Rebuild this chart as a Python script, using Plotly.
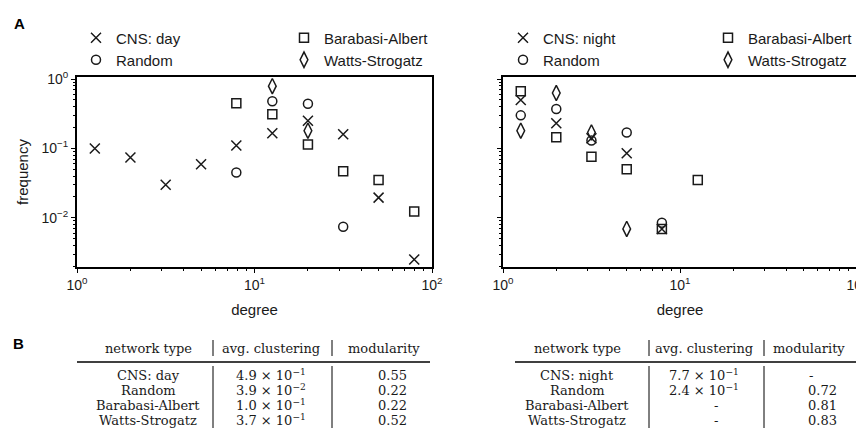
import math
import plotly.graph_objects as go

# The page body has an 8px margin, so the figure is drawn 8px in from the top-left corner.
OFF = 8
W, H = 864 - OFF, 439 - OFF

# ---------------- data ----------------
day_cns_x = [1.26, 2.0, 3.16, 5.0, 7.9, 12.6, 20.0, 31.6, 50.0, 79.4]
day_cns_y = [0.10, 0.074, 0.030, 0.059, 0.11, 0.165, 0.25, 0.16, 0.0195, 0.0025]
day_random_x = [7.9, 12.6, 20.0, 31.6]
day_random_y = [0.045, 0.48, 0.44, 0.0074]
day_ba_x = [7.9, 12.6, 20.0, 31.6, 50.0, 79.4]
day_ba_y = [0.45, 0.31, 0.114, 0.047, 0.035, 0.0123]
day_ws_x = [12.6, 20.0]
day_ws_y = [0.79, 0.18]

night_cns_x = [1.26, 2.0, 3.16, 5.0, 7.9]
night_cns_y = [0.50, 0.23, 0.14, 0.085, 0.0069]
night_random_x = [1.26, 2.0, 3.16, 5.0, 7.9]
night_random_y = [0.30, 0.37, 0.13, 0.17, 0.0085]
night_ba_x = [1.26, 2.0, 3.16, 5.0, 7.9, 12.6]
night_ba_y = [0.67, 0.145, 0.076, 0.05, 0.0069, 0.035]
night_ws_x = [1.26, 2.0, 3.16, 5.0]
night_ws_y = [0.18, 0.63, 0.17, 0.0069]

x_tickvals = [1, 10, 100]
x_ticktext = ["10<sup>0</sup>", "10<sup>1</sup>", "10<sup>2</sup>"]
y_tickvals = [1, 0.1, 0.01]
y_ticktext = ["10<sup>0</sup>", "10<sup>−1</sup>", "10<sup>−2</sup>"]

table_header = ["network type", "avg. clustering", "modularity"]
table_day_names = ["CNS: day", "Random", "Barabasi-Albert", "Watts-Strogatz"]
table_day_clustering = [4.9e-1, 3.9e-2, 1.0e-1, 3.7e-1]
table_day_modularity = [0.55, 0.22, 0.22, 0.52]
table_night_names = ["CNS: night", "Random", "Barabasi-Albert", "Watts-Strogatz"]
table_night_clustering = [7.7e-1, 2.4e-1, None, None]
table_night_modularity = [None, 0.72, 0.81, 0.83]

# ---------------- helpers ----------------
def px(x):
    return (x - OFF) / W

def py(y):
    return 1 - (y - OFF) / H

def sci(v):
    e = int(math.floor(math.log10(v)))
    m = v / 10 ** e
    return f"{m:.1f} × 10<sup>−{abs(e)}</sup>" if e < 0 else f"{m:.1f} × 10<sup>{e}</sup>"

def num(v):
    return f"{v:.2f}"

INK = "#1a1a1a"
SANS = "Liberation Sans, Arial, sans-serif"
SERIF = "DejaVu Serif, serif"

fig = go.Figure()

series = [
    (day_cns_x, day_cns_y, "CNS: day", "x-thin-open", 10, "x", "legend", (76, 38)),
    (day_random_x, day_random_y, "Random", "circle-open", 9, "x", "legend2", (76, 60)),
    (day_ba_x, day_ba_y, "Barabasi-Albert", "square-open", 9, "x", "legend3", (284, 38)),
    (day_ws_x, day_ws_y, "Watts-Strogatz", "diamond-tall-open", 11, "x", "legend4", (284, 60)),
    (night_cns_x, night_cns_y, "CNS: night", "x-thin-open", 10, "x2", "legend5", (503, 38)),
    (night_random_x, night_random_y, "Random", "circle-open", 9, "x2", "legend6", (503, 60)),
    (night_ba_x, night_ba_y, "Barabasi-Albert", "square-open", 9, "x2", "legend7", (708, 38)),
    (night_ws_x, night_ws_y, "Watts-Strogatz", "diamond-tall-open", 11, "x2", "legend8", (708, 60)),
]

legend_layout = {}
for xs, ys, name, sym, size, xa, lg, (lx, ly) in series:
    fig.add_trace(go.Scatter(
        x=xs, y=ys, mode="markers", name=name, xaxis=xa, yaxis="y" if xa == "x" else "y2",
        legend=lg,
        marker=dict(symbol=sym, size=size, color=INK, line=dict(color=INK, width=1.5)),
    ))
    legend_layout[lg] = dict(
        x=px(lx), y=py(ly), xanchor="left", yanchor="middle", xref="paper", yref="paper",
        bgcolor="rgba(0,0,0,0)", borderwidth=0, font=dict(family=SANS, size=15, color=INK),
    )

axis_common = dict(
    type="log", showgrid=False, zeroline=False, showline=True, linecolor="black", linewidth=2,
    mirror=True, ticks="outside", ticklen=4, tickwidth=1.2, tickcolor="black", automargin=False,
    tickfont=dict(family=SANS, size=14, color=INK),
)
minor_x = dict(ticks="outside", ticklen=2, tickwidth=1, tickcolor="black",
               tickvals=[2, 3, 4, 5, 6, 7, 8, 9, 20, 30, 40, 50, 60, 70, 80, 90])
minor_y = dict(ticks="outside", ticklen=2, tickwidth=1, tickcolor="black",
               tickvals=[0.002, 0.003, 0.004, 0.005, 0.006, 0.007, 0.008, 0.009,
                         0.02, 0.03, 0.04, 0.05, 0.06, 0.07, 0.08, 0.09,
                         0.2, 0.3, 0.4, 0.5, 0.6, 0.7, 0.8, 0.9])

ydom = [py(267), py(77)]
title_font = dict(family=SANS, size=15, color=INK)
fig.update_layout(
    xaxis=dict(axis_common, domain=[px(77), px(432)], range=[0, 2], anchor="y",
               tickmode="array", tickvals=x_tickvals, ticktext=x_ticktext, minor=minor_x,
               ticklabeloverflow="allow",
               title=dict(text="degree", font=title_font, standoff=13)),
    xaxis2=dict(axis_common, domain=[px(503), px(857)], range=[0, 2], anchor="y2",
                tickmode="array", tickvals=x_tickvals, ticktext=x_ticktext, minor=minor_x,
                ticklabeloverflow="allow",
                title=dict(text="degree", font=title_font, standoff=13)),
    yaxis=dict(axis_common, domain=ydom, range=[-2.71, 0.03], anchor="x",
               tickmode="array", tickvals=y_tickvals, ticktext=y_ticktext, minor=minor_y,
               title=dict(text="frequency", font=title_font, standoff=9)),
    yaxis2=dict(axis_common, domain=ydom, range=[-2.71, 0.03], anchor="x2",
                tickmode="array", tickvals=y_tickvals, showticklabels=False, minor=minor_y),
    **legend_layout,
    width=W, height=H, margin=dict(l=0, r=0, t=0, b=0, autoexpand=False),
    paper_bgcolor="white", plot_bgcolor="white", showlegend=True,
)

annotations = [
    dict(text="<b>A</b>", x=px(19), y=py(23)),
    dict(text="<b>B</b>", x=px(18), y=py(343)),
]
for a in annotations:
    a.update(xref="paper", yref="paper", showarrow=False, xanchor="center", yanchor="middle",
             font=dict(family=SANS, size=15, color="black"))

shapes = []

def add_table(names, clustering, modularity, x0, x1, c1, s1, c2, s2, c3h, c3, dash2, dash3):
    header_y = 348
    rule_y = 362
    row_y = [375, 390, 405, 420]
    for txt, cx in zip(table_header, [c1, c2, c3h]):
        annotations.append(dict(text=txt, x=px(cx), y=py(header_y)))
    for i, r in enumerate(row_y):
        annotations.append(dict(text=names[i], x=px(c1), y=py(r)))
        cv, mv = clustering[i], modularity[i]
        annotations.append(dict(text=sci(cv) if cv is not None else "-",
                                x=px(c2 if cv is not None else dash2), y=py(r)))
        annotations.append(dict(text=num(mv) if mv is not None else "-",
                                x=px(c3 if mv is not None else dash3), y=py(r)))
    shapes.append(dict(type="line", xref="paper", yref="paper", x0=px(x0), x1=px(x1),
                       y0=py(rule_y), y1=py(rule_y), line=dict(color="black", width=1.3)))
    for sx in (s1, s2):
        shapes.append(dict(type="line", xref="paper", yref="paper", x0=px(sx), x1=px(sx),
                           y0=py(340), y1=py(356), line=dict(color="black", width=1)))
        shapes.append(dict(type="line", xref="paper", yref="paper", x0=px(sx), x1=px(sx),
                           y0=py(366), y1=py(428), line=dict(color="black", width=1)))

n0 = len(annotations)
add_table(table_day_names, table_day_clustering, table_day_modularity,
          77, 430, 148, 213, 271, 332, 384, 392, 271, 392)
add_table(table_night_names, table_night_clustering, table_night_modularity,
          515, 859, 577, 649, 704, 764, 809, 822, 716, 811)
for a in annotations[n0:]:
    a.update(xref="paper", yref="paper", showarrow=False, xanchor="center", yanchor="middle",
             borderpad=0, font=dict(family=SERIF, size=13, color=INK))

fig.update_layout(annotations=annotations, shapes=shapes)
fig.write_html("out.html")
